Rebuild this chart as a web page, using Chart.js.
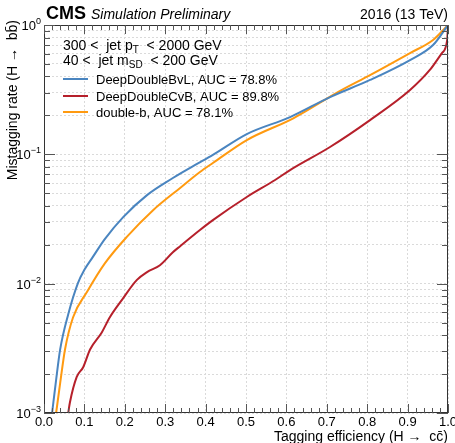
<!DOCTYPE html>
<html>
<head>
<meta charset="utf-8">
<script src="https://cdn.jsdelivr.net/npm/chart.js@4.4.1/dist/chart.umd.min.js"></script>
<style>
  html, body { margin: 0; padding: 0; background: #fff; }
  #wrap { width: 455px; height: 443px; }
</style>
</head>
<body>
<div id="wrap"><canvas id="roc" width="455" height="443"></canvas></div>
<script>
// ROC curves: tagging efficiency (H->cc) vs mistag rate (H->bb)
const effBvL = [0.02, 0.03, 0.04, 0.06, 0.084, 0.10, 0.121, 0.15, 0.196, 0.255, 0.319, 0.337, 0.381, 0.418, 0.502, 0.609, 0.708, 0.807, 0.906, 0.963, 1.0];
const misBvL = [0.001, 0.0018, 0.0031, 0.0058, 0.0101, 0.0128, 0.0161, 0.022, 0.0327, 0.0484, 0.0656, 0.071, 0.085, 0.099, 0.1435, 0.194, 0.277, 0.376, 0.536, 0.70, 1.0];

const effCvB = [0.06, 0.064, 0.081, 0.097, 0.114, 0.143, 0.163, 0.193, 0.23, 0.255, 0.287, 0.319, 0.337, 0.386, 0.418, 0.502, 0.572, 0.609, 0.708, 0.807, 0.906, 0.955, 0.985, 0.998, 1.0];
const misCvB = [0.001, 0.0012, 0.0019, 0.00226, 0.0031, 0.0042, 0.0055, 0.0075, 0.0107, 0.0123, 0.0139, 0.0175, 0.0195, 0.026, 0.031, 0.0468, 0.0633, 0.0756, 0.114, 0.184, 0.314, 0.449, 0.607, 0.766, 1.0];

const effDb = [0.03, 0.04, 0.052, 0.072, 0.107, 0.151, 0.205, 0.27, 0.337, 0.386, 0.418, 0.502, 0.617, 0.733, 0.807, 0.906, 0.963, 1.0];
const misDb = [0.001, 0.0017, 0.0031, 0.0055, 0.0087, 0.0144, 0.023, 0.037, 0.055, 0.073, 0.0857, 0.129, 0.19, 0.31, 0.41, 0.607, 0.766, 1.0];

const seriesNames = ["DeepDoubleBvL, AUC = 78.8%", "DeepDoubleCvB, AUC = 89.8%", "double-b, AUC = 78.1%"];
const seriesColors = ["#4a85c0", "#b6202b", "#ff9a10"];

const xTicks = [0, 0.1, 0.2, 0.3, 0.4, 0.5, 0.6, 0.7, 0.8, 0.9, 1.0];
const yDecades = [-3, -2, -1, 0];

const FONT = "'Liberation Sans', Arial, Helvetica, sans-serif";

function pts(xs, ys) {
  return xs.map((x, i) => ({ x: x, y: ys[i] }));
}

// every 1..9 x 10^n tick of the log axis
function logTicks() {
  const out = [];
  for (let d = -3; d < 0; d++) {
    for (let m = 1; m < 10; m++) out.push({ value: m * Math.pow(10, d) });
  }
  out.push({ value: 1 });
  return out;
}

const decor = {
  id: "decor",
  beforeDraw(chart) {
    const ctx = chart.ctx;
    ctx.save();
    ctx.fillStyle = "#fff";
    ctx.fillRect(0, 0, chart.width, chart.height);
    ctx.restore();
  },
  afterDraw(chart) {
    const ctx = chart.ctx;
    const a = chart.chartArea;
    const xs = chart.scales.x;
    const ys = chart.scales.y;
    ctx.save();

    // frame
    ctx.strokeStyle = "#333";
    ctx.lineWidth = 1;
    ctx.strokeRect(a.left + 0.5, a.top + 0.5, a.right - a.left - 1, a.bottom - a.top - 1);

    // x ticks, inward, top and bottom
    ctx.strokeStyle = "#555";
    for (let i = 0; i <= 50; i++) {
      const v = i / 50;
      const px = Math.round(xs.getPixelForValue(v)) + 0.5;
      const len = (i % 5 === 0) ? 9 : 5;
      ctx.beginPath();
      ctx.moveTo(px, a.bottom); ctx.lineTo(px, a.bottom - len);
      ctx.moveTo(px, a.top); ctx.lineTo(px, a.top + len);
      ctx.stroke();
    }
    // y ticks, inward, left and right
    logTicks().forEach(t => {
      const py = Math.round(ys.getPixelForValue(t.value)) + 0.5;
      const major = Math.abs(Math.log10(t.value) - Math.round(Math.log10(t.value))) < 1e-9;
      const len = major ? 11 : 6;
      ctx.beginPath();
      ctx.moveTo(a.left, py); ctx.lineTo(a.left + len, py);
      ctx.moveTo(a.right, py); ctx.lineTo(a.right - len, py);
      ctx.stroke();
    });

    // x tick labels
    ctx.fillStyle = "#000";
    ctx.font = "13px " + FONT;
    ctx.textAlign = "center";
    ctx.textBaseline = "top";
    xTicks.forEach(v => {
      ctx.fillText(v.toFixed(1), xs.getPixelForValue(v), a.bottom + 3);
    });

    // y tick labels 10^n
    yDecades.forEach(d => {
      const py = ys.getPixelForValue(Math.pow(10, d));
      const exp = d === 0 ? "0" : "\u2212" + (-d);
      ctx.font = "9px " + FONT;
      const ew = ctx.measureText(exp).width;
      ctx.textAlign = "right";
      ctx.textBaseline = "alphabetic";
      ctx.fillText(exp, a.left - 3, py - 1);
      ctx.font = "13px " + FONT;
      ctx.fillText("10", a.left - 3 - ew, py + 5);
    });

    // axis titles
    ctx.font = "14px " + FONT;
    ctx.textAlign = "right";
    ctx.textBaseline = "alphabetic";
    ctx.fillText("Tagging efficiency (H \u2192  c\u0063\u0304)", a.right, 441);
    ctx.save();
    ctx.translate(17, a.top - 5);
    ctx.rotate(-Math.PI / 2);
    ctx.fillText("Mistagging rate (H \u2192  b\u0062\u0304)", 0, 0);
    ctx.restore();

    // header
    ctx.textAlign = "left";
    ctx.font = "bold 18px " + FONT;
    ctx.fillText("CMS", 46, 19);
    const cw = ctx.measureText("CMS").width;
    ctx.font = "italic 14px " + FONT;
    ctx.fillText("Simulation Preliminary", 46 + cw + 5, 19);
    ctx.font = "14px " + FONT;
    ctx.textAlign = "right";
    ctx.fillText("2016 (13 TeV)", 448, 19);

    // cut labels
    ctx.textAlign = "left";
    ctx.font = "14px " + FONT;
    let x0 = 63;
    let t = "300 <  jet p";
    ctx.fillText(t, x0, 50);
    let w = ctx.measureText(t).width;
    ctx.font = "10px " + FONT;
    ctx.fillText("T", x0 + w, 53);
    w += ctx.measureText("T").width;
    ctx.font = "14px " + FONT;
    ctx.fillText("  < 2000 GeV", x0 + w, 50);

    t = "40 <  jet m";
    ctx.fillText(t, x0, 65);
    w = ctx.measureText(t).width;
    ctx.font = "10px " + FONT;
    ctx.fillText("SD", x0 + w, 68);
    w += ctx.measureText("SD").width;
    ctx.font = "14px " + FONT;
    ctx.fillText("  < 200 GeV", x0 + w, 65);

    // legend
    ctx.font = "13px " + FONT;
    ctx.textBaseline = "middle";
    const rows = [79, 96, 112];
    seriesNames.forEach((name, i) => {
      ctx.strokeStyle = seriesColors[i];
      ctx.lineWidth = 2;
      ctx.beginPath();
      ctx.moveTo(63, rows[i]); ctx.lineTo(88, rows[i]);
      ctx.stroke();
      ctx.fillStyle = "#000";
      ctx.fillText(name, 96, rows[i] + 1);
    });

    ctx.restore();
  }
};

new Chart(document.getElementById("roc"), {
  type: "line",
  data: {
    datasets: [
      { label: seriesNames[0], data: pts(effBvL, misBvL), borderColor: seriesColors[0] },
      { label: seriesNames[1], data: pts(effCvB, misCvB), borderColor: seriesColors[1] },
      { label: seriesNames[2], data: pts(effDb, misDb), borderColor: seriesColors[2] }
    ]
  },
  options: {
    responsive: false,
    animation: false,
    parsing: false,
    clip: 0,
    layout: { padding: { left: 44, right: 7, top: 25, bottom: 30 } },
    elements: {
      line: { borderWidth: 2, cubicInterpolationMode: "monotone", fill: false },
      point: { radius: 0 }
    },
    plugins: { legend: { display: false }, tooltip: { enabled: false } },
    scales: {
      x: {
        type: "linear", min: 0, max: 1,
        ticks: { display: false, stepSize: 0.1 },
        grid: { color: "#dadada", lineWidth: 1, drawTicks: false },
        border: { display: false, dash: [2, 2] },
        afterFit(s) { s.height = 0; }
      },
      y: {
        type: "logarithmic", min: 0.001, max: 1,
        ticks: { display: false },
        afterBuildTicks(s) { s.ticks = logTicks(); },
        grid: { color: "#dadada", lineWidth: 1, drawTicks: false },
        border: { display: false, dash: [2, 2] },
        afterFit(s) { s.width = 0; }
      }
    }
  },
  plugins: [decor]
});
</script>
</body>
</html>
